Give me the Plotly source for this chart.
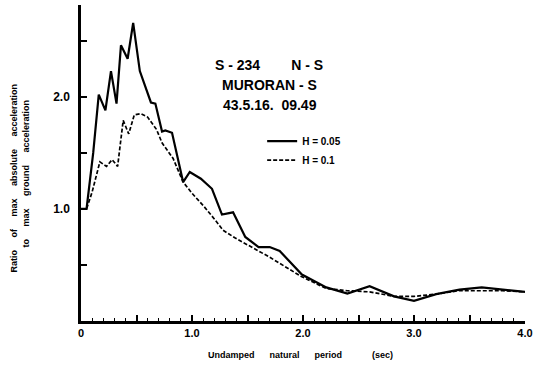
import plotly.graph_objects as go

# H = 0.05 (solid)
period_h005 = [0, 0.05, 0.11, 0.16, 0.22, 0.27, 0.32, 0.36, 0.42, 0.47, 0.53, 0.59, 0.63, 0.67,
               0.73, 0.76, 0.82, 0.92, 0.98, 1.08, 1.18, 1.27, 1.37, 1.48, 1.60, 1.70, 1.79,
               1.99, 2.21, 2.40, 2.60, 2.82, 3.00, 3.20, 3.41, 3.61, 3.80, 4.00]
ratio_h005 = [1.0, 1.0, 1.50, 2.02, 1.88, 2.23, 1.94, 2.46, 2.34, 2.66, 2.23, 2.06, 1.95, 1.94,
              1.69, 1.70, 1.68, 1.24, 1.33, 1.27, 1.18, 0.95, 0.97, 0.75, 0.66, 0.66, 0.625,
              0.415, 0.30, 0.245, 0.31, 0.22, 0.18, 0.24, 0.28, 0.30, 0.28, 0.26]

# H = 0.1 (dashed)
period_h01 = [0, 0.05, 0.10, 0.17, 0.23, 0.28, 0.33, 0.38, 0.43, 0.48, 0.54, 0.60, 0.68, 0.73,
              0.83, 0.92, 1.00, 1.11, 1.21, 1.28, 1.39, 1.54, 1.69, 1.98, 2.21, 2.40, 2.60,
              2.82, 3.00, 3.20, 3.40, 3.60, 3.80, 4.00]
ratio_h01 = [1.0, 1.0, 1.15, 1.42, 1.38, 1.44, 1.38, 1.79, 1.67, 1.84, 1.85, 1.82, 1.71, 1.59,
             1.45, 1.24, 1.14, 1.02, 0.90, 0.81, 0.74, 0.66, 0.575, 0.40, 0.29, 0.27, 0.26,
             0.22, 0.22, 0.24, 0.27, 0.27, 0.27, 0.26]

x_tickvals = [0, 0.5, 1.0, 1.5, 2.0, 2.5, 3.0, 3.5, 4.0]
x_ticktext = ["0", "", "1.0", "", "2.0", "", "3.0", "", "4.0"]
y_tickvals = [0.5, 1.0, 1.5, 2.0, 2.5]
y_ticktext = ["", "1.0", "", "2.0", ""]

FONT = "Liberation Sans"
NB = "\u00a0"
W, H = 538, 372
X0, Y0 = 81, 321   # plot origin in window px
X1, Y1 = 529, 5    # plot top-right in window px
PW, PH = X1 - X0, Y0 - Y1

fig = go.Figure()
fig.add_trace(go.Scatter(x=period_h005, y=ratio_h005, mode="lines", name="H = 0.05",
                         line=dict(color="black", width=2.2)))
fig.add_trace(go.Scatter(x=period_h01, y=ratio_h01, mode="lines", name="H = 0.1",
                         line=dict(color="black", width=1.7, dash="4px,2px")))

fig.update_layout(
    width=W, height=H,
    margin=dict(l=X0, r=W - X1, t=Y1, b=H - Y0),
    paper_bgcolor="white", plot_bgcolor="white",
    font=dict(family=FONT, color="black"),
    showlegend=True,
    legend=dict(x=0.408, y=0.615, xanchor="left", yanchor="top",
                bgcolor="rgba(0,0,0,0)", itemwidth=30, tracegroupgap=0,
                font=dict(size=10, family=FONT, weight="bold", color="black")),
    xaxis=dict(range=[0, 4.0], showgrid=False, zeroline=False,
               showline=True, linecolor="black", linewidth=2.5,
               tickvals=x_tickvals, ticktext=x_ticktext,
               ticks="inside", ticklen=6, tickwidth=1.5, tickcolor="black",
               minor=dict(dtick=0.1, ticks="inside", ticklen=3, tickcolor="black", tickwidth=1),
               tickfont=dict(size=11, family=FONT, weight="bold"),
               fixedrange=True),
    yaxis=dict(range=[0, 2.82], showgrid=False, zeroline=False,
               showline=True, linecolor="black", linewidth=2.5,
               tickvals=y_tickvals, ticktext=y_ticktext,
               ticks="inside", ticklen=6, tickwidth=1.5, tickcolor="black",
               tickfont=dict(size=12, family=FONT, weight="bold"),
               ticklabelstandoff=6,
               fixedrange=True),
)


def px(x, y):
    return (x - X0) / PW, (Y0 - y) / PH


annos = [
    dict(text="S - 234" + NB * 8 + "N - S", x=271, y=65),
    dict(text="MURORAN - S", x=271, y=85),
    dict(text="43.5.16." + NB * 2 + "09.49", x=272, y=105),
]
for a in annos:
    ax, ay = px(a["x"], a["y"])
    fig.add_annotation(text=a["text"], xref="paper", yref="paper", x=ax, y=ay,
                       xanchor="center", yanchor="middle", showarrow=False,
                       font=dict(size=14, family=FONT, weight="bold", color="black"))

# y-axis title (two rotated lines)
sp = NB * 5
ax, ay = px(13, 178)
fig.add_annotation(text="Ratio" + sp + "of" + sp + "max" + sp + "absolute" + sp + "acceleration",
                   xref="paper", yref="paper", x=ax, y=ay,
                   xanchor="center", yanchor="middle", textangle=-90, showarrow=False,
                   font=dict(size=9, family=FONT, weight="bold", color="black"))
ax, ay = px(25, 174)
fig.add_annotation(text="to" + sp + "max" + sp + "ground" + sp + "acceleration",
                   xref="paper", yref="paper", x=ax, y=ay,
                   xanchor="center", yanchor="middle", textangle=-90, showarrow=False,
                   font=dict(size=9, family=FONT, weight="bold", color="black"))
# x-axis title
ax, ay = px(302, 355)
fig.add_annotation(text="Undamped" + NB * 6 + "natural" + NB * 6 + "period" + NB * 12 + "(sec)",
                   xref="paper", yref="paper", x=ax, y=ay,
                   xanchor="center", yanchor="middle", showarrow=False,
                   font=dict(size=9, family=FONT, weight="bold", color="black"))

fig.write_html("out.html", config={"displayModeBar": False},
               post_script="document.body.style.margin='0';document.body.style.overflow='hidden';")
